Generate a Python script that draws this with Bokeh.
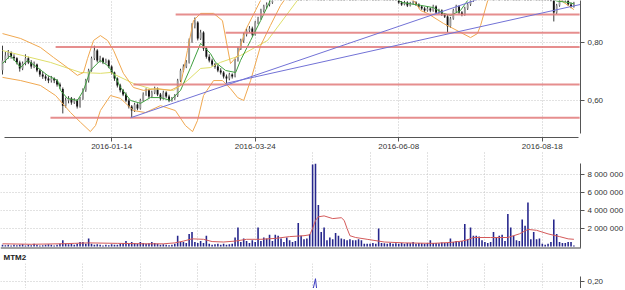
import numpy as np
from bokeh.plotting import figure
from bokeh.layouts import column
from bokeh.models import Range1d, FixedTicker, CustomJSTickFormatter, Span
from bokeh.embed import file_html
from bokeh.resources import INLINE

# ---------------- data ----------------
tick_idx = [38, 88, 138, 188]
tick_labels = ["2016-01-14", "2016-03-24", "2016-06-08", "2016-08-18"]

open_ = [0.705,0.739,0.756,0.766,0.752,0.746,0.732,0.711,0.728,0.746,0.732,0.718,0.725,0.704,0.690,0.683,0.676,0.669,0.676,0.669,
 0.655,0.640,0.582,0.600,0.607,0.593,0.600,0.579,0.607,0.635,0.669,0.704,0.746,0.773,0.739,0.746,0.732,0.739,0.718,0.697,
 0.676,0.652,0.635,0.621,0.600,0.579,0.565,0.586,0.572,0.600,0.621,0.635,0.614,0.628,0.641,0.621,0.607,0.628,0.614,0.600,
 0.607,0.617,0.669,0.704,0.718,0.732,0.808,0.860,0.870,0.815,0.836,0.780,0.752,0.739,0.725,0.718,0.704,0.697,0.683,0.676,
 0.690,0.683,0.739,0.780,0.808,0.829,0.843,0.850,0.829,0.870,0.884,0.912,0.926,0.933,0.940,0.964,0.975,0.990,0.985,1.005,
 1.020,1.010,1.030,1.045,1.040,1.025,1.035,1.030,1.060,1.160,1.280,1.200,1.180,1.150,1.160,1.130,1.100,1.110,1.090,1.080,
 1.070,1.075,1.060,1.050,1.040,1.045,1.030,1.020,1.010,1.015,1.000,0.995,0.985,0.990,0.975,0.970,0.965,0.960,0.954,0.940,
 0.933,0.940,0.929,0.937,0.940,0.933,0.926,0.919,0.912,0.919,0.912,0.926,0.905,0.912,0.898,0.891,0.857,0.884,0.912,0.926,
 0.905,0.898,0.919,0.933,0.947,0.965,0.980,0.995,1.010,1.000,1.020,1.030,1.025,1.040,1.035,1.050,1.045,1.030,1.040,1.025,
 1.020,1.010,1.015,1.000,0.995,0.985,0.990,0.975,0.970,0.965,0.960,0.955,0.950,0.905,0.929,0.957,0.954,0.947,0.933,0.926]
high = [0.790,0.768,0.775,0.770,0.760,0.750,0.738,0.735,0.760,0.752,0.740,0.735,0.728,0.710,0.700,0.690,0.684,0.685,0.680,0.674,
 0.662,0.645,0.610,0.615,0.612,0.608,0.605,0.612,0.642,0.675,0.710,0.752,0.790,0.778,0.755,0.750,0.745,0.742,0.722,0.700,
 0.680,0.658,0.640,0.628,0.606,0.584,0.592,0.590,0.606,0.628,0.642,0.640,0.634,0.648,0.645,0.626,0.634,0.632,0.620,0.612,
 0.622,0.675,0.710,0.725,0.740,0.815,0.868,0.888,0.875,0.845,0.840,0.786,0.760,0.745,0.730,0.724,0.712,0.702,0.690,0.696,
 0.694,0.745,0.786,0.814,0.835,0.850,0.858,0.856,0.876,0.890,0.918,0.932,0.940,0.948,0.972,0.985,0.998,0.995,1.012,1.028,
 1.025,1.038,1.052,1.050,1.044,1.042,1.040,1.068,1.175,1.300,1.290,1.210,1.185,1.170,1.165,1.138,1.118,1.114,1.095,1.085,
 1.082,1.078,1.064,1.055,1.052,1.048,1.034,1.025,1.022,1.018,1.006,0.998,0.996,0.993,0.980,0.976,0.970,0.966,0.958,0.945,
 0.946,0.944,0.942,0.946,0.944,0.937,0.930,0.924,0.925,0.922,0.932,0.930,0.918,0.916,0.902,0.896,0.890,0.918,0.932,0.930,
 0.910,0.925,0.938,0.952,0.972,0.986,1.002,1.016,1.014,1.026,1.036,1.034,1.046,1.044,1.056,1.054,1.050,1.046,1.044,1.030,
 1.024,1.020,1.018,1.004,0.998,0.996,0.994,0.980,0.975,0.970,0.966,0.960,0.954,0.935,0.962,0.964,0.958,0.952,0.940,0.942]
low = [0.690,0.730,0.745,0.745,0.738,0.725,0.700,0.705,0.722,0.726,0.710,0.712,0.698,0.682,0.675,0.668,0.660,0.662,0.660,0.648,
 0.640,0.555,0.575,0.590,0.585,0.588,0.572,0.575,0.602,0.630,0.662,0.700,0.740,0.732,0.732,0.726,0.728,0.712,0.690,0.668,
 0.645,0.628,0.615,0.594,0.572,0.541,0.560,0.566,0.568,0.596,0.616,0.608,0.610,0.622,0.615,0.600,0.603,0.608,0.594,0.596,
 0.602,0.612,0.664,0.698,0.712,0.728,0.800,0.850,0.808,0.810,0.772,0.745,0.732,0.718,0.710,0.698,0.690,0.676,0.659,0.670,
 0.676,0.680,0.735,0.775,0.800,0.822,0.836,0.822,0.825,0.864,0.880,0.905,0.918,0.926,0.935,0.958,0.970,0.975,0.980,1.000,
 1.002,1.005,1.025,1.032,1.018,1.020,1.022,1.025,1.055,1.150,1.190,1.170,1.140,1.145,1.125,1.095,1.095,1.085,1.074,1.064,
 1.066,1.055,1.044,1.034,1.036,1.025,1.014,1.004,1.006,0.995,0.990,0.978,0.982,0.970,0.964,0.958,0.952,0.948,0.935,0.928,
 0.930,0.924,0.926,0.932,0.928,0.920,0.914,0.906,0.908,0.906,0.908,0.900,0.900,0.893,0.886,0.836,0.852,0.880,0.906,0.900,
 0.892,0.894,0.914,0.928,0.942,0.960,0.975,0.990,0.994,0.996,1.015,1.018,1.020,1.028,1.030,1.038,1.024,1.026,1.018,1.014,
 1.004,1.006,0.994,0.990,0.980,0.982,0.970,0.965,0.960,0.955,0.950,0.944,0.874,0.900,0.925,0.948,0.942,0.928,0.920,0.922]
close = [0.739,0.756,0.766,0.752,0.746,0.732,0.711,0.728,0.746,0.732,0.718,0.725,0.704,0.690,0.683,0.676,0.669,0.676,0.669,0.655,
 0.648,0.582,0.600,0.607,0.593,0.600,0.579,0.607,0.635,0.669,0.704,0.746,0.773,0.739,0.746,0.732,0.739,0.718,0.697,0.676,
 0.652,0.635,0.621,0.600,0.579,0.565,0.586,0.572,0.600,0.621,0.635,0.614,0.628,0.641,0.621,0.607,0.628,0.614,0.600,0.607,
 0.617,0.669,0.704,0.718,0.732,0.808,0.860,0.870,0.815,0.836,0.780,0.752,0.739,0.725,0.718,0.704,0.697,0.683,0.676,0.690,
 0.683,0.739,0.780,0.808,0.829,0.843,0.850,0.829,0.870,0.884,0.912,0.926,0.933,0.940,0.964,0.975,0.990,0.985,1.005,1.020,
 1.010,1.030,1.045,1.040,1.025,1.035,1.030,1.060,1.160,1.280,1.200,1.180,1.150,1.160,1.130,1.100,1.110,1.090,1.080,1.070,
 1.075,1.060,1.050,1.040,1.045,1.030,1.020,1.010,1.015,1.000,0.995,0.985,0.990,0.975,0.970,0.965,0.960,0.954,0.940,0.933,
 0.940,0.929,0.937,0.940,0.933,0.926,0.919,0.912,0.919,0.912,0.926,0.905,0.912,0.898,0.891,0.857,0.884,0.912,0.926,0.905,
 0.898,0.919,0.933,0.947,0.965,0.980,0.995,1.010,1.000,1.020,1.030,1.025,1.040,1.035,1.050,1.045,1.030,1.040,1.025,1.020,
 1.010,1.015,1.000,0.995,0.985,0.990,0.975,0.970,0.965,0.960,0.955,0.950,0.905,0.929,0.957,0.954,0.947,0.933,0.926,0.937]

volume_mln = [0.2,0.15,0.2,0.1,0.2,0.15,0.2,0.25,0.1,0.2,0.15,0.3,0.2,0.1,0.15,0.2,0.25,0.2,0.1,0.2,
 0.3,0.7,0.3,0.25,0.3,0.2,0.3,0.5,0.5,0.3,0.9,0.3,0.2,0.25,0.2,0.1,0.2,0.15,0.25,0.2,
 0.2,0.3,0.4,0.6,0.3,0.5,0.4,0.3,0.5,0.4,0.3,0.35,0.5,0.4,0.3,0.2,0.25,0.2,0.15,0.2,
 0.3,1.2,0.5,0.5,0.4,1.4,1.6,0.5,0.4,0.6,0.4,1.2,0.3,0.2,0.25,0.3,0.2,0.3,0.2,0.25,
 0.3,1.0,2.1,0.5,0.9,0.6,0.4,0.7,0.5,2.1,0.6,1.0,0.9,1.3,0.6,1.3,1.2,0.9,0.5,1.0,
 0.7,0.5,0.6,2.6,1.2,0.8,0.9,1.4,9.1,9.2,4.6,1.6,2.1,0.7,1.0,0.8,1.5,1.2,0.9,0.8,
 0.7,0.8,0.7,0.7,0.8,0.7,0.3,0.3,0.3,0.4,0.3,2.0,0.4,0.35,0.3,0.4,0.3,0.35,0.3,0.4,
 0.3,0.4,0.35,0.5,0.3,0.4,0.35,0.3,0.4,0.7,0.4,0.4,0.35,0.45,0.4,0.4,0.9,0.5,0.6,0.5,
 0.6,2.5,0.8,2.1,1.2,1.2,1.1,0.7,0.5,0.4,0.5,1.6,1.0,1.2,1.3,0.6,3.6,2.1,1.2,0.7,
 0.6,3.0,2.3,4.9,0.8,1.6,0.8,0.9,0.3,0.2,0.3,0.5,3.0,1.4,0.5,0.4,0.4,0.5,0.5,0.1]
volma_x = [0,10,20,25,30,40,50,56,60,63,66,70,73,77,81,85,90,95,100,105,107,108,109,110,112,115,118,119,120,121,123,127,
 133,140,150,156,160,162,164,170,176,180,183,186,190,194,197,199]
volma_mln = [0.3,0.25,0.3,0.35,0.4,0.35,0.3,0.3,0.4,0.6,0.85,0.8,0.55,0.5,0.6,0.8,0.8,0.9,1.1,1.2,1.3,2.0,2.9,3.3,3.4,3.1,
 3.2,2.9,2.0,1.2,1.0,0.8,0.5,0.4,0.35,0.45,0.6,0.75,1.0,1.0,1.0,1.4,1.9,1.8,1.4,1.1,0.85,0.8]

green_x = [0,2.8,6.3,8.7,12.2,15.7,19.2,20.2,22.6,26.1,28.2,30.6,34.1,36.6,38.7,41.1,44.6,48.1,51.5,55,58.5,62,65.5,69,72.4,
 74.2,77.7,81.2,82.9,86.4,89.9,93.3,100,108,112,120,130,136,139,145.6,150.1,153.6,156.1,159.5,162,170,180,188,193,197,199]
green_y = [0.728,0.756,0.714,0.739,0.714,0.687,0.669,0.635,0.607,0.600,0.635,0.704,0.739,0.721,0.694,0.645,0.600,0.590,0.610,
 0.610,0.600,0.635,0.714,0.798,0.763,0.732,0.704,0.697,0.739,0.808,0.877,0.947,1.020,1.100,1.180,1.080,1.000,0.965,0.940,
 0.930,0.922,0.902,0.895,0.912,0.947,1.020,1.020,0.975,0.945,0.940,0.935]
yellow_x = [0,16.7,27.2,34.1,37.6,45.6,51.5,59.6,64.4,69,72.4,75.9,82.9,92.3,102.7,110,125,140,150,160,175,190,199]
yellow_y = [0.773,0.732,0.697,0.694,0.697,0.659,0.641,0.635,0.669,0.711,0.714,0.732,0.756,0.808,0.947,1.000,1.060,1.020,
 0.985,0.965,0.990,1.000,0.980]
ub_x = [0,6.3,13.2,17.8,22.6,26.1,28.2,29.6,31.7,34.1,36.6,38.7,42.1,45.6,49.1,54,58.5,62,64.4,66.5,69,73.5,76.6,79.4,81.9,
 84.6,88.1,91.6,100,110,120,130,140,150,160,170,180,190,199]
ub_y = [0.832,0.815,0.784,0.749,0.714,0.687,0.697,0.745,0.808,0.825,0.808,0.773,0.694,0.645,0.635,0.641,0.635,0.652,0.773,
 0.877,0.902,0.902,0.877,0.728,0.756,0.843,0.912,0.981,1.080,1.350,1.300,1.060,0.990,0.975,0.970,1.080,1.070,1.030,0.990]
lb_x = [0,6.3,13.2,18.5,23.7,27.2,30.6,32.4,34.1,37.6,41.1,45.6,49.8,55,60.2,63.7,66.2,67.9,70,73.5,76.6,79.4,81.9,84,86.4,
 89.9,93.3,96.8,99.3,105,110,120,130,138,143.2,145.6,148,153.6,163,165.4,166.5,169,180,190,194,197.1,199]
lb_y = [0.680,0.669,0.652,0.617,0.558,0.524,0.492,0.513,0.565,0.617,0.607,0.565,0.558,0.582,0.565,0.513,0.492,0.530,0.617,
 0.669,0.669,0.641,0.610,0.600,0.669,0.790,0.860,0.929,0.964,0.985,0.960,0.990,0.975,0.960,0.947,0.912,0.902,0.867,0.818,
 0.832,0.860,0.947,0.990,0.960,0.950,0.929,0.915]

hline_level = [0.898, 0.835, 0.785, 0.655, 0.540]
hline_start = [60.3, 77.7, 18.5, 45.6, 16.7]
hline_end = [201.0, 201.0, 201.0, 201.0, 201.0]

trend_x0 = [44.6, 77.7]
trend_y0 = [0.540, 0.659]
trend_x1 = [201.3, 201.3]
trend_y1 = [1.072, 0.933]

mtm_x = [0,10,20,30,40,50,60,66,70,80,90,100,105,107,108,109,110,111,112,120,130,140,150,160,170,180,190,199]
mtm_y = [-0.02,-0.03,-0.04,0.08,-0.05,0.02,0.03,0.13,-0.09,0.0,0.07,0.0,-0.01,0.025,0.13,0.22,0.04,-0.10,-0.05,-0.02,
 -0.02,0.0,0.01,0.02,0.03,-0.01,-0.01,0.01]

# ---------------- style ----------------
FONT = "Liberation Sans"
GRID = "#c4c4c4"
AXIS = "#555555"
LBL = "#333333"
FRAME_W = 580
X_RANGE = Range1d(-0.7, 201.3)
sub_grid = [8, 28, 48, 68, 88, 108, 128, 148, 168, 188]

comma2 = CustomJSTickFormatter(code="return tick.toFixed(2).replace('.', ',');")
spaced = CustomJSTickFormatter(code="return Math.round(tick).toString().replace(/\\B(?=(\\d{3})+(?!\\d))/g, ' ');")


def base(fig):
    fig.outline_line_color = None
    fig.background_fill_color = "white"
    fig.border_fill_color = "white"
    for g in (fig.xgrid, fig.ygrid):
        g.grid_line_color = GRID
        g.grid_line_dash = "1 2"
        g.grid_line_width = 1
    for ax in fig.axis:
        ax.axis_line_color = AXIS
        ax.major_tick_line_color = AXIS
        ax.minor_tick_line_color = None
        ax.major_tick_in = 0
        ax.major_tick_out = 4
        ax.major_label_text_font = FONT
        ax.major_label_text_font_size = "8px"
        ax.major_label_text_color = LBL
        ax.major_label_standoff = 3


o = np.array(open_)
h = np.array(high)
l = np.array(low)
c = np.array(close)
idx = np.arange(len(c))
up = c >= o

# ---------------- price panel ----------------
p1 = figure(frame_width=FRAME_W, frame_height=137, x_range=X_RANGE,
            y_range=Range1d(0.4715, 0.9467), y_axis_location="right",
            output_backend="svg", toolbar_location=None,
            min_border_left=0, min_border_right=0, min_border_top=0, min_border_bottom=0)
base(p1)
p1.xaxis.ticker = FixedTicker(ticks=tick_idx)
p1.xaxis.major_label_overrides = {t: s for t, s in zip(tick_idx, tick_labels)}
p1.xaxis.bounds = (0.7, 200.6)
p1.xaxis.major_label_standoff = 2
p1.yaxis.ticker = FixedTicker(ticks=[0.6, 0.8])
p1.yaxis.formatter = comma2
p1.yaxis.bounds = (0.4854, 1.2)

p1.segment(idx, h, idx, l, color="#3a3a3a", line_width=1)
p1.vbar(x=idx[up], width=0.65, top=c[up], bottom=o[up], fill_color="#9a9a9a", line_color=None)
p1.vbar(x=idx[~up], width=0.65, top=o[~up], bottom=c[~up], fill_color="#111111", line_color=None)

p1.line(yellow_x, yellow_y, color="#dede6a", line_width=1)
p1.line(ub_x, ub_y, color="#f0a850", line_width=1)
p1.line(lb_x, lb_y, color="#f0a850", line_width=1)
p1.line(green_x, green_y, color="#3f9f3f", line_width=1)

p1.segment(x0=hline_start, y0=hline_level, x1=hline_end, y1=hline_level,
           color="#e27a7a", line_width=2, line_alpha=0.85)
p1.segment(x0=trend_x0, y0=trend_y0, x1=trend_x1, y1=trend_y1, color="#7272d6", line_width=1)

# ---------------- volume panel ----------------
vol = np.array(volume_mln) * 1e6
p2 = figure(frame_width=FRAME_W, frame_height=98, x_range=X_RANGE,
            y_range=Range1d(-0.333e6, 10.556e6), y_axis_location="right",
            output_backend="svg", toolbar_location=None,
            min_border_left=0, min_border_right=0, min_border_top=0, min_border_bottom=0)
base(p2)
p2.xaxis.visible = False
p2.xgrid.ticker = FixedTicker(ticks=sub_grid)
p2.yaxis.ticker = FixedTicker(ticks=[2e6, 4e6, 6e6, 8e6])
p2.yaxis.formatter = spaced
p2.yaxis.bounds = (-0.2e6, 9.2e6)
p2.vbar(x=idx, width=0.55, top=vol, bottom=0, fill_color="#26268c", line_color=None)
p2.line(volma_x, np.array(volma_mln) * 1e6, color="#d45a5a", line_width=1)
p2.add_layout(Span(location=-0.17e6, dimension="width", line_color="#a0a0a0", line_width=2))

# ---------------- MTM2 panel ----------------
p3 = figure(frame_width=FRAME_W, frame_height=25, x_range=X_RANGE,
            y_range=Range1d(0.15, 0.3286), y_axis_location="right",
            output_backend="svg", toolbar_location=None,
            min_border_left=0, min_border_right=0, min_border_top=0, min_border_bottom=0,
            title="MTM2")
base(p3)
p3.title.text_font = FONT
p3.title.text_font_size = "8px"
p3.title.text_font_style = "bold"
p3.title.text_color = "#222222"
p3.title.align = "left"
p3.title.offset = 3
p3.title.standoff = 3
p3.xaxis.visible = False
p3.xgrid.ticker = FixedTicker(ticks=sub_grid)
p3.yaxis.ticker = FixedTicker(ticks=[0.2])
p3.yaxis.formatter = comma2
p3.yaxis.bounds = (0.1, 0.236)
p3.line(mtm_x, mtm_y, color="#3c3cc0", line_width=1)

layout = column(p1, p2, p3, spacing=0)
open("out.html", "w").write(file_html(layout, INLINE))
